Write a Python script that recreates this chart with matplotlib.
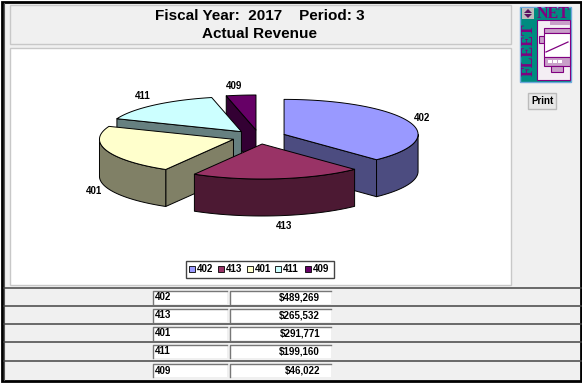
import numpy as np
import matplotlib
matplotlib.use("Agg")
import matplotlib.pyplot as plt
from matplotlib.patches import Polygon, Rectangle
from matplotlib import font_manager as fm

plt.rcParams['font.family'] = ['Liberation Sans', 'DejaVu Sans']

# data
categories = ['402', '413', '401', '411', '409']
revenue = [489269, 265532, 291771, 199160, 46022]
revenue_labels = ['$489,269', '$265,532', '$291,771', '$199,160', '$46,022']
title_lines = ['Fiscal Year:  2017    Period: 3', 'Actual Revenue']

top_colors = ['#9999FF', '#993366', '#FFFFCC', '#CCFFFF', '#660066']
side_colors = ['#4C4C80', '#4C1933', '#808066', '#668080', '#330033']
label_xy = [(422, 118), (284, 226), (94, 191), (143, 96), (234, 86)]

PANEL = '#F0F0F0'
CX, CY = 259, 137
RX, RY = 134, 35
DEPTH = 37
EXPLODE = 27

# narrow face for the small labels when it is there
names = {f.name for f in fm.fontManager.ttflist}
SMALL = 'Liberation Sans Narrow' if 'Liberation Sans Narrow' in names else 'Liberation Sans'
SMALL_SIZE = 8 if SMALL == 'Liberation Sans Narrow' else 7

fig = plt.figure(figsize=(5.82, 3.83), dpi=100, facecolor='white')
ax = fig.add_axes([0, 0, 1, 1])
ax.set_xlim(0, 582)
ax.set_ylim(383, 0)
ax.axis('off')


def box(x0, y0, x1, y1, fc, ec='none', lw=0, z=1):
    ax.add_patch(Rectangle((x0, y0), x1 - x0, y1 - y0, facecolor=fc, edgecolor=ec, linewidth=lw, zorder=z))


def sunken(x0, y0, x1, y1):
    box(x0, y0, x1, y1, 'white', z=2)
    ax.plot([x0, x0, x1], [y1, y0, y0], color='#777777', lw=1, zorder=3)


def small_text(x, y, s, ha='center'):
    ax.text(x, y, s, ha=ha, va='center', family=SMALL, fontsize=SMALL_SIZE, fontweight='bold', zorder=10)


# window background and panels
box(1.5, 1.5, 580.5, 380.5, PANEL, ec='black', lw=2)
ax.plot([3.5, 3.5], [3, 380], color='#555555', lw=0.8, zorder=2)
box(10, 5, 511, 44, PANEL, ec='#C8C8C8', lw=1, z=2)
box(10, 48, 511, 285, 'white', ec='#C8C8C8', lw=1, z=2)
ax.text(260, 15.5, title_lines[0], ha='center', va='center', fontsize=11, fontweight='bold', zorder=5)
ax.text(260, 33.5, title_lines[1], ha='center', va='center', fontsize=11, fontweight='bold', zorder=5)

# exploded pie, angles clockwise from 12 o'clock
shares = np.array(revenue) / sum(revenue) * 360
starts = np.concatenate([[0], np.cumsum(shares)[:-1]])


def rim(a, apex):
    t = np.radians(a)
    return apex[0] + RX * np.sin(t), apex[1] - RY * np.cos(t)


def face(pts, color, z):
    ax.add_patch(Polygon(pts, closed=True, facecolor=color, edgecolor='black',
                         linewidth=0.7, joinstyle='round', zorder=z))


def draw_slice(i, z):
    a0, a1 = starts[i], starts[i] + shares[i]
    mid = np.radians((a0 + a1) / 2)
    apex = (CX + EXPLODE * np.sin(mid), CY - EXPLODE * RY / RX * np.cos(mid))
    low = (apex[0], apex[1] + DEPTH)
    # radial walls, only the ones turned towards the viewer
    for a, sign in [(a0, 1), (a1, -1)]:
        if sign * np.sin(np.radians(a)) < 0:
            x, y = rim(a, apex)
            face([apex, (x, y), (x, y + DEPTH), low], side_colors[i], z)
    # outer wall, lower half of the ellipse
    lo, hi = max(a0, 90), min(a1, 270)
    if hi > lo:
        ang = np.linspace(lo, hi, 60)
        upper = [rim(a, apex) for a in ang]
        lower = [(x, y + DEPTH) for x, y in upper][::-1]
        face(upper + lower, side_colors[i], z + 0.1)
    ang = np.linspace(a0, a1, 80)
    face([apex] + [rim(a, apex) for a in ang], top_colors[i], z + 0.2)


# back to front
for z, i in zip([4, 5, 6, 7, 8], [4, 3, 0, 2, 1]):
    draw_slice(i, z)

for name, (x, y) in zip(categories, label_xy):
    small_text(x, y, name)

# legend
box(185.5, 260.5, 334, 278, 'white', ec='#444444', lw=1, z=3)
key_x = [189, 218, 247, 275, 305]
for x, name, c in zip(key_x, categories, top_colors):
    box(x, 266, x + 5.5, 271.5, c, ec='black', lw=0.6, z=4)
    small_text(x + 8, 269, name, ha='left')

# table rows
row_lines = [288, 306, 324, 342, 361]
row_tops = [291, 309, 327, 345, 364]
for y in row_lines:
    ax.plot([4, 581], [y, y], color='#444444', lw=1.1, zorder=3)
for y, name, val in zip(row_tops, categories, revenue_labels):
    sunken(153, y, 227, y + 13)
    sunken(230, y, 331, y + 13)
    small_text(155, y + 6.5, name, ha='left')
    small_text(320, y + 6.5, val, ha='right')

# logo
PURPLE = '#800080'
LIGHT = '#C9A0C9'
box(520, 7, 571, 82, '#008B80', ec='#6FA8DC', lw=1, z=2)
box(522, 8, 534, 19, '#BDBDBD', z=3)
ax.add_patch(Polygon([(528, 9), (532, 13), (524, 13)], closed=True, fc='#5A1060', ec='none', zorder=4))
ax.add_patch(Polygon([(528, 18), (532, 14), (524, 14)], closed=True, fc='#5A1060', ec='none', zorder=4))
ax.text(553, 13.5, 'NET', ha='center', va='center', fontsize=11.5, family='Liberation Serif',
        fontweight='bold', color=PURPLE, zorder=4)
ax.text(529, 50, 'FLEET', ha='center', va='center', rotation=90, fontsize=11.5, family='Liberation Serif',
        fontweight='bold', color=PURPLE, zorder=4)
box(537, 20, 570, 80, '#F4EEF4', ec=PURPLE, lw=0.8, z=3)
box(550, 21, 570, 25, LIGHT, z=4)
box(539, 36, 544, 43, LIGHT, ec=PURPLE, lw=0.8, z=4)
box(544, 28, 570, 33, LIGHT, ec=PURPLE, lw=0.8, z=4)
box(544, 33, 570, 57, 'white', ec=PURPLE, lw=0.8, z=4)
ax.plot([546, 568], [52, 42], color=PURPLE, lw=0.9, zorder=5)
box(544, 57, 570, 66, LIGHT, ec=PURPLE, lw=0.8, z=4)
for x in [548, 553, 558]:
    box(x, 60, x + 3.5, 63, 'white', z=5)
box(551, 66, 563, 72, LIGHT, ec=PURPLE, lw=0.8, z=4)

# print button
box(528, 93, 556, 109, '#E8E8E8', ec='#BBBBBB', lw=1, z=2)
small_text(542, 101, 'Print')

fig.savefig('out.png', dpi=100)
